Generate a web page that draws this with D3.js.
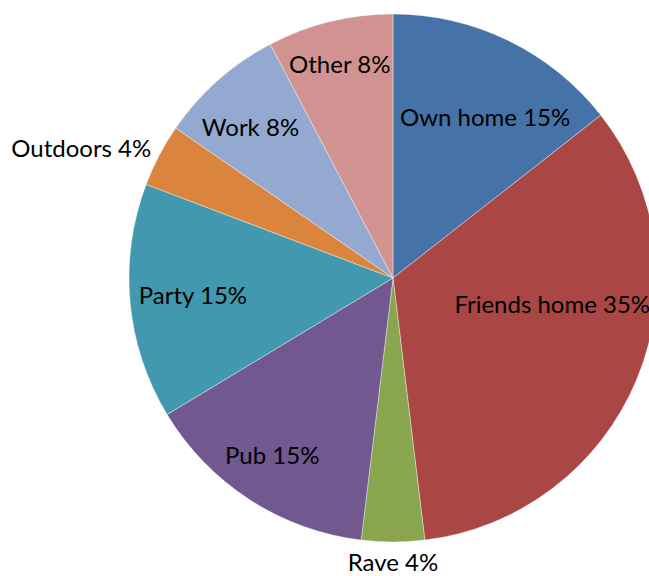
<!DOCTYPE html>
<html>
<head>
<meta charset="utf-8">
<script src="https://cdn.jsdelivr.net/npm/d3@7"></script>
<style>
  html, body { margin: 0; padding: 0; background: #fff; }
  svg { display: block; }
  text { font-family: Lato, "Open Sans", sans-serif; fill: #000; }
</style>
</head>
<body>
<svg id="chart" width="649" height="576"></svg>
<script>
// Where people said they were — share of responses per location
const categories = ["Own home", "Friends home", "Rave", "Pub", "Party", "Outdoors", "Work", "Other"];
const percents = [15, 35, 4, 15, 15, 4, 8, 8];
const colors = ["#4572A7", "#AA4643", "#89A54E", "#71588F", "#4198AF", "#DB843D", "#93A9CF", "#D19392"];
// small slices get their label outside the pie
const outsideLabels = ["Rave", "Outdoors"];

const W = 649, H = 576;
const cx = 393, cy = 278, R = 264;
const fontSize = 24;

const data = categories.map((c, i) => ({ name: c, value: percents[i], color: colors[i] }));

const svg = d3.select("#chart");
const g = svg.append("g").attr("transform", `translate(${cx},${cy})`);

const pie = d3.pie().value(d => d.value).sort(null).startAngle(0).endAngle(2 * Math.PI);
const arc = d3.arc().innerRadius(0).outerRadius(R);
const arcs = pie(data);

g.selectAll("path.slice")
  .data(arcs)
  .join("path")
  .attr("class", "slice")
  .attr("d", arc)
  .attr("fill", d => d.data.color)
  .attr("stroke", "rgba(255,255,255,0.5)")
  .attr("stroke-width", 0.75);

// label placement: inside labels sit on a ring at 78% of the radius,
// with a few nudged to keep clear of the slice edges
const insideR = R * 0.78;
const nudge = {
  "Own home": [2, 24],
  "Friends home": [-31, -52],
  "Pub": [-9, 4],
  "Party": [5, -1],
  "Work": [-6, 3],
  "Other": [-4, -14]
};
const capHalf = fontSize * 0.36;

const labels = g.selectAll("text.lbl")
  .data(arcs)
  .join("text")
  .attr("class", "lbl")
  .style("font-size", fontSize + "px")
  .text(d => `${d.data.name} ${d.data.value}%`);

labels.each(function(d) {
  const mid = (d.startAngle + d.endAngle) / 2;
  const sx = Math.sin(mid), sy = -Math.cos(mid);
  const t = d3.select(this);
  if (outsideLabels.includes(d.data.name)) {
    let anchor = "middle", x, y;
    if (Math.abs(sx) > 0.3) {
      const rr = R + 9;
      anchor = sx < 0 ? "end" : "start";
      x = rr * sx;
      y = rr * sy + capHalf - 3;
    } else {
      const rr = R + 13;
      x = rr * sx;
      // keep the bottom label inside the drawing area
      y = Math.min(rr * sy + 2 * capHalf + 3, H - cy - 5);
    }
    t.attr("x", x).attr("y", y).attr("text-anchor", anchor);
  } else {
    const n = nudge[d.data.name] || [0, 0];
    t.attr("x", insideR * sx + n[0])
     .attr("y", insideR * sy + n[1] + capHalf)
     .attr("text-anchor", "middle");
  }
});
</script>
</body>
</html>
